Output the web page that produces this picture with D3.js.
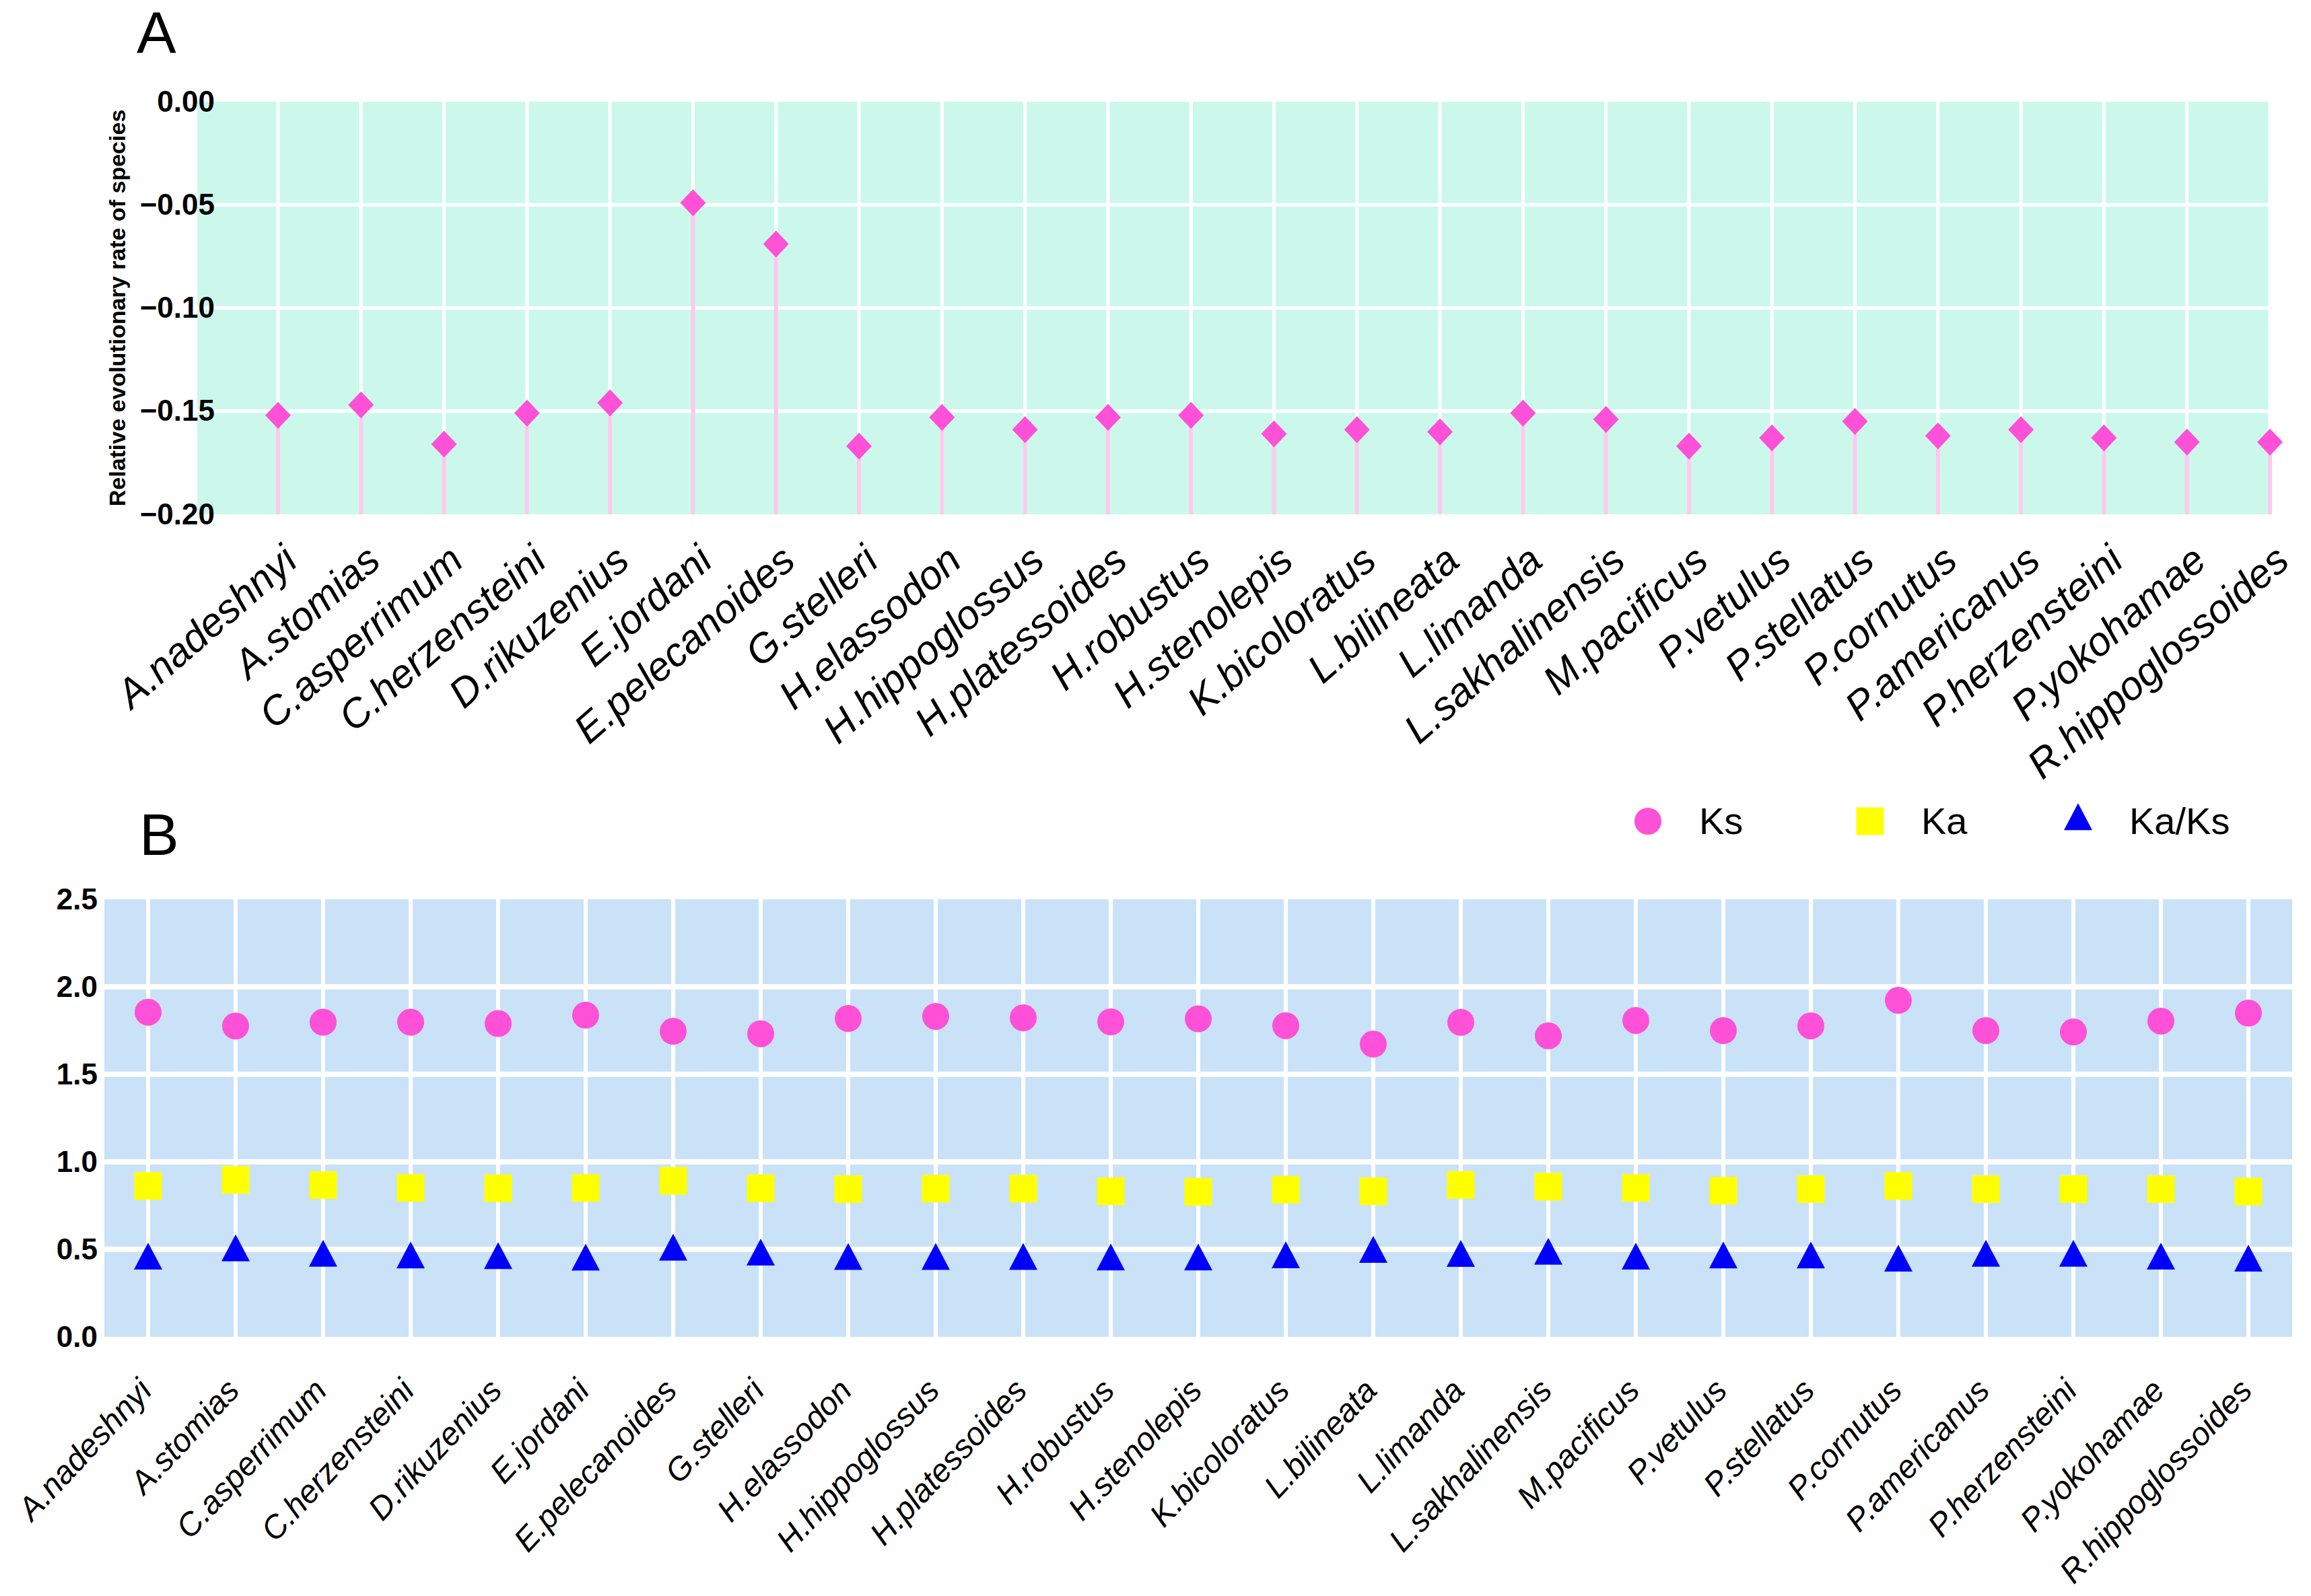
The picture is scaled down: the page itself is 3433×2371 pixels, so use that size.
<!DOCTYPE html>
<html>
<head>
<meta charset="utf-8">
<script src="https://cdn.jsdelivr.net/npm/d3@7"></script>
<style>
  body { margin: 0; background: #fff; }
  text { font-family: Arial, "Liberation Sans", sans-serif; }
</style>
</head>
<body>
<div id="chart"></div>
<script>
const species = ["A.nadeshnyi", "A.stomias", "C.asperrimum", "C.herzensteini", "D.rikuzenius",
  "E.jordani", "E.pelecanoides", "G.stelleri", "H.elassodon", "H.hippoglossus", "H.platessoides",
  "H.robustus", "H.stenolepis", "K.bicoloratus", "L.bilineata", "L.limanda", "L.sakhalinensis",
  "M.pacificus", "P.vetulus", "P.stellatus", "P.cornutus", "P.americanus", "P.herzensteini",
  "P.yokohamae", "R.hippoglossoides"]

// panel A: relative evolutionary rate
const relRate = [-0.152, -0.147, -0.166, -0.151, -0.146, -0.049, -0.069, -0.167, -0.153, -0.159,
  -0.153, -0.152, -0.161, -0.159, -0.160, -0.151, -0.154, -0.167, -0.163, -0.155, -0.162, -0.159,
  -0.163, -0.165, -0.165]
const ticksA = [0, -0.05, -0.10, -0.15, -0.20]

// panel B: Ks, Ka, Ka/Ks
const ks = [1.855, 1.776, 1.798, 1.798, 1.790, 1.838, 1.746, 1.732, 1.819, 1.831, 1.823, 1.800,
  1.817, 1.778, 1.673, 1.797, 1.720, 1.808, 1.750, 1.777, 1.923, 1.750, 1.742, 1.804, 1.850]
const ka = [0.862, 0.897, 0.867, 0.851, 0.849, 0.851, 0.892, 0.849, 0.844, 0.847, 0.847, 0.832,
  0.829, 0.841, 0.832, 0.868, 0.858, 0.851, 0.835, 0.844, 0.862, 0.844, 0.844, 0.844, 0.830]
const kaks = [0.436, 0.483, 0.452, 0.443, 0.439, 0.430, 0.487, 0.459, 0.434, 0.434, 0.434, 0.431,
  0.431, 0.444, 0.474, 0.451, 0.464, 0.436, 0.443, 0.443, 0.424, 0.452, 0.452, 0.436, 0.424]
const ticksB = [0, 0.5, 1.0, 1.5, 2.0, 2.5]
const seriesB = ["Ks", "Ka", "Ka/Ks"]

const width = 3433
const height = 2371
const pink = "#ff50d8"
const stemPink = "#ffc8ee"
const yellow = "#ffff00"
const blue = "#0000ff"

const svg = d3.select("#chart").append("svg")
  .attr("width", width)
  .attr("height", height)
  .attr("viewBox", [0, 0, width, height])
  .style("display", "block")

// ---------- shapes ----------
const diamond = (w, h) => `M0,${-h/2}L${w/2},0L0,${h/2}L${-w/2},0Z`
const triangle = (w, h) => `M0,${-2*h/3}L${w/2},${h/3}L${-w/2},${h/3}Z`

function drawMarker(g, type, x, y) {
  if (type === "Ks") {
    g.append("circle").attr("cx", x).attr("cy", y).attr("r", 20).attr("fill", pink)
  } else if (type === "Ka") {
    g.append("rect").attr("x", x - 20.5).attr("y", y - 20.5)
      .attr("width", 41).attr("height", 41).attr("fill", yellow)
  } else {
    g.append("path").attr("transform", `translate(${x},${y})`)
      .attr("d", triangle(42, 40)).attr("fill", blue)
  }
}

// ---------- panel A ----------
const A = { left: 293, right: 3372, top: 151, bottom: 764 }
const xA = d3.scalePoint().domain(species).range([413, 3372])
const yA = d3.scaleLinear().domain([-0.2, 0]).range([A.bottom, A.top])

const gA = svg.append("g")
gA.append("rect")
  .attr("x", A.left).attr("y", A.top)
  .attr("width", A.right - A.left).attr("height", A.bottom - A.top)
  .attr("fill", "#ccf8ec")

gA.append("g").selectAll("line").data(ticksA.slice(1, -1)).join("line")
  .attr("x1", A.left).attr("x2", A.right)
  .attr("y1", d => yA(d)).attr("y2", d => yA(d))
  .attr("stroke", "#fff").attr("stroke-width", 5)
gA.append("g").selectAll("line").data(species).join("line")
  .attr("x1", d => xA(d)).attr("x2", d => xA(d))
  .attr("y1", A.top).attr("y2", A.bottom)
  .attr("stroke", "#fff").attr("stroke-width", 5)

const ptsA = species.map((s, i) => ({ s, v: relRate[i] }))
gA.append("g").selectAll("line").data(ptsA).join("line")
  .attr("x1", d => xA(d.s)).attr("x2", d => xA(d.s))
  .attr("y1", A.bottom).attr("y2", d => yA(d.v))
  .attr("stroke", stemPink).attr("stroke-width", 6)
gA.append("g").selectAll("path").data(ptsA).join("path")
  .attr("transform", d => `translate(${xA(d.s)},${yA(d.v)})`)
  .attr("d", diamond(38, 40))
  .attr("fill", pink)

gA.append("g")
  .attr("transform", `translate(${A.left - 2},0)`)
  .call(d3.axisLeft(yA).tickValues(ticksA).tickSize(0).tickPadding(0).tickFormat(d3.format(".2f")))
  .call(g => g.select(".domain").remove())
  .call(g => g.selectAll("text")
    .attr("x", 28)
    .attr("font-size", 44).attr("font-weight", "bold").attr("fill", "#000"))

gA.append("text")
  .attr("transform", `translate(186,${(A.top + A.bottom) / 2}) rotate(-90)`)
  .attr("text-anchor", "middle")
  .attr("font-size", 34).attr("font-weight", "bold")
  .text("Relative evolutionary rate of species")

gA.append("g").selectAll("text").data(species).join("text")
  .attr("transform", d => `translate(${xA(d) + 32},${A.bottom + 74}) rotate(-41)`)
  .attr("text-anchor", "end")
  .attr("font-size", 60).attr("font-style", "italic")
  .text(d => d)

svg.append("text").attr("x", 203).attr("y", 79)
  .attr("font-size", 88).text("A")

// ---------- panel B ----------
const B = { left: 155, right: 3405, top: 1336, bottom: 1986 }
const xB = d3.scalePoint().domain(species).range([B.left, B.right]).padding(0.5)
const yB = d3.scaleLinear().domain([0, 2.5]).range([B.bottom, B.top])

const gB = svg.append("g")
gB.append("rect")
  .attr("x", B.left).attr("y", B.top)
  .attr("width", B.right - B.left).attr("height", B.bottom - B.top)
  .attr("fill", "#c9e2f8")

gB.append("g").selectAll("line").data(ticksB.slice(1, -1)).join("line")
  .attr("x1", B.left).attr("x2", B.right)
  .attr("y1", d => yB(d)).attr("y2", d => yB(d))
  .attr("stroke", "#fff").attr("stroke-width", 8)
gB.append("g").selectAll("line").data(species).join("line")
  .attr("x1", d => xB(d)).attr("x2", d => xB(d))
  .attr("y1", B.top).attr("y2", B.bottom)
  .attr("stroke", "#fff").attr("stroke-width", 6)

const valuesB = { "Ks": ks, "Ka": ka, "Ka/Ks": kaks }
const gMarks = gB.append("g")
seriesB.forEach(name => {
  valuesB[name].forEach((v, i) => drawMarker(gMarks, name, xB(species[i]), yB(v)))
})

gB.append("g")
  .attr("transform", `translate(${B.left - 10},0)`)
  .call(d3.axisLeft(yB).tickValues(ticksB).tickSize(0).tickPadding(0).tickFormat(d3.format(".1f")))
  .call(g => g.select(".domain").remove())
  .call(g => g.selectAll("text")
    .attr("font-size", 44).attr("font-weight", "bold").attr("fill", "#000"))

gB.append("g").selectAll("text").data(species).join("text")
  .attr("transform", d => `translate(${xB(d) + 8},${B.bottom + 82}) rotate(-47)`)
  .attr("text-anchor", "end")
  .attr("font-size", 48).attr("font-style", "italic")
  .text(d => d)

svg.append("text").attr("x", 207).attr("y", 1270)
  .attr("font-size", 88).text("B")

// legend
const legendX = [2448, 2778, 3087]
const legend = svg.append("g")
seriesB.forEach((name, i) => {
  drawMarker(legend, name, legendX[i], 1220)
  legend.append("text")
    .attr("x", legendX[i] + 76).attr("y", 1239)
    .attr("font-size", 56)
    .text(name)
})
</script>
</body>
</html>
